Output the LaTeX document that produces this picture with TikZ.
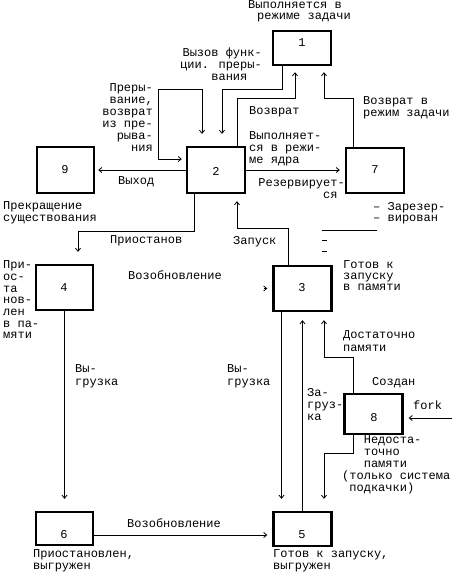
\documentclass[tikz,border=0pt]{standalone}
\usepackage{fontspec}
\newfontfamily\monof{Liberation Mono}
\usetikzlibrary{arrows.meta}
\tikzset{
  box/.style={draw, line width=2.4pt, minimum width=58pt, inner sep=0pt},
  num/.style={inner sep=0pt},
  lbl/.style={inner sep=0pt, anchor=west},
  mlbl/.style={inner sep=0pt, anchor=north west, align=left},
  conn/.style={line width=0.8pt},
  arr/.style={conn, -{Straight Barb[length=3pt,width=5pt]}},
  every node/.style={font=\monof\fontsize{12}{12}\selectfont}
}
\begin{document}
\begin{tikzpicture}[x=1pt,y=-1pt]
\useasboundingbox[fill=white] (0,0) rectangle (452,579);
% boxes
\node[box, minimum height=34pt] (b1) at (302,48) {};
\node[box, minimum height=46pt] (b2) at (216,170) {};
\node[box, minimum height=46pt, minimum width=57pt] (b9) at (65.5,170) {};
\node[box, minimum height=45pt] (b7) at (375,170.5) {};
\node[box, minimum height=45pt, minimum width=57pt] (b4) at (64.5,287.5) {};
\node[box, minimum height=45pt] (b3) at (302.5,288.5) {};
\node[box, minimum height=40pt] (b8) at (373.5,414) {};
\node[box, minimum height=33pt, minimum width=57pt] (b6) at (64.5,528.5) {};
\node[box, minimum height=34pt] (b5) at (302.5,529) {};
% numbers
\node[num] (n1) at (302,43) {1};
\node[num] (n2) at (216,171) {2};
\node[num] (n9) at (65,170) {9};
\node[num] (n7) at (375,170) {7};
\node[num] (n4) at (64,288) {4};
\node[num] (n3) at (302,288) {3};
\node[num] (n8) at (374,418) {8};
\node[num] (n6) at (64,535) {6};
\node[num] (n5) at (302,535) {5};
% connectors
\draw[arr, shorten >=12pt] ([xshift=-20pt]b1.south) -- ++(0,23) -| ([xshift=6pt]b2.north);
\draw[arr, shorten >=6pt] ([xshift=21pt]b2.north) -- ++(0,-47) -| ([xshift=-7pt]b1.south);
\draw[arr, shorten >=6pt] ([xshift=-22pt]b7.north) -- ++(0,-48) -| ([xshift=22pt]b1.south);
\coordinate (k2) at (158,89);
\draw[conn, {Straight Barb[length=3pt,width=5pt]}-{Straight Barb[length=3pt,width=5pt]}, shorten <=12pt, shorten >=4pt]
  ([xshift=-14pt]b2.north) |- (k2) |- ([yshift=11pt]b2.west);
\draw[arr, shorten >=3pt] (b2.west) -- (b9.east);
\draw[arr, shorten >=5pt] (b2.east) -- (b2.east -| b7.west);
\draw[arr, shorten >=12pt] ([xshift=-22pt]b2.south) -- ++(0,37) -| ([xshift=13.5pt]b4.north);
\draw[arr, shorten >=7pt] ([xshift=-14.5pt]b3.north) -- ++(0,-36) -| ([xshift=21pt]b2.south);
\draw[arr, shorten >=5pt] ([xshift=-8pt]b3.west) -- (b3.west);
\draw[arr, shorten >=12pt] (b4.south) -- (b6.north);
\draw[arr, shorten >=12pt] ([xshift=-21pt]b3.south) -- ([xshift=-21pt]b5.north);
\draw[arr, shorten >=8pt] (b5.north) -- (b3.south);
\draw[arr, shorten >=8pt] ([xshift=-20.5pt]b8.north) -- ++(0,-35) -| ([xshift=21.5pt]b3.south);
\draw[arr, shorten >=12pt] ([xshift=-20.5pt]b8.south) -- ++(0,18) -| ([xshift=21.5pt]b5.north);
\coordinate (fk) at (452,418);
\draw[arr, shorten >=5pt] (fk) -- (fk -| b8.east);
\draw[arr, shorten >=5pt] ([yshift=-6.5pt]b6.east) -- ([yshift=-6.5pt]b6.east -| b5.west);
% stray lines
\draw[conn] (322,230) -- (377,230);
\draw[conn] (322,240) -- (327,240);
\draw[conn] (322,251) -- (327,251);
% labels
\node[lbl] (t1a) at (248,5) {Выполняется в};
\node[lbl] (t1b) at (257,18) {режиме задачи};
\node[mlbl, align=right, anchor=north east] (t2) at (262,47.5) {Вызов функ-\\ции. преры-\\вания\phantom{xx}};
\node[mlbl, align=right, anchor=north east] (t3) at (153,83.5) {Преры-\\вание,\\возврат\\из пре-\\рыва-\\ния};
\node[lbl] (t4) at (249,112) {Возврат};
\node[mlbl] (t5) at (249,131) {Выполняет-\\ся в режи-\\ме ядра};
\node[mlbl] (t6) at (363,96.5) {Возврат в\\режим задачи};
\node[lbl] (t7) at (118,182) {Выход};
\node[mlbl, align=right, anchor=north east] (t8) at (345,178.5) {Резервирует-\\ся\phantom{-}};
\node[mlbl] (t9) at (3,201.5) {Прекращение\\существования};
\node[lbl] (t10) at (110,241) {Приостанов};
\node[lbl] (t11) at (233,242) {Запуск};
\node[lbl] (t12) at (128,275) {Возобновление};
\node[mlbl, font=\monof\fontsize{12}{11.7}\selectfont] (t13) at (3,260.5) {При-\\ос-\\та\\нов-\\лен\\в па-\\мяти};
\node[mlbl, font=\monof\fontsize{12}{11}\selectfont] (t14) at (343,260.5) {Готов к\\запуску\\в памяти};
\node[mlbl, font=\monof\fontsize{12}{10.5}\selectfont] (t15) at (373,202.5) {– Зарезер-\\– вирован};
\node[mlbl, font=\monof\fontsize{12}{13}\selectfont] (t16) at (75,364.5) {Вы-\\грузка};
\node[mlbl, font=\monof\fontsize{12}{13}\selectfont] (t17) at (227,364.5) {Вы-\\грузка};
\node[mlbl, font=\monof\fontsize{12}{13}\selectfont] (t18) at (343,330.5) {Достаточно\\памяти};
\node[lbl] (t19) at (372,383) {Создан};
\node[mlbl] (t20) at (307,388.5) {За-\\груз-\\ка};
\node[lbl] (t21) at (413,405) {fork};
\node[mlbl] (t22) at (342,435.5) {\phantom{xxx}Недоста-\\\phantom{xxx}точно\\\phantom{xxx}памяти\\(только система\\\phantom{x}подкачки)};
\node[lbl] (t23) at (127,523) {Возобновление};
\node[mlbl] (t24) at (273,549.5) {Готов к запуску,\\выгружен};
\node[mlbl] (t25) at (33,549.5) {Приостановлен,\\выгружен};
\end{tikzpicture}
\end{document}
